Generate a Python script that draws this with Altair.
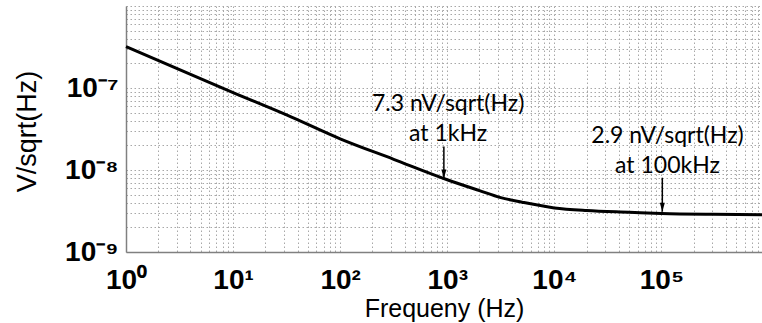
import json
import altair as alt
import pandas as pd

# ---- data ----
freq = [1, 3.16, 10, 31.6, 100, 316, 1000, 2000, 3160, 5000, 10000, 20000,
        50000, 100000, 300000, 870000]
noise = [3.2e-7, 1.67e-7, 8.8e-8, 4.7e-8, 2.4e-8, 1.35e-8, 7.6e-9, 5.6e-9,
         4.6e-9, 4.05e-9, 3.45e-9, 3.2e-9, 3.05e-9, 2.95e-9, 2.88e-9, 2.85e-9]

x_decades = [1.0, 10.0, 100.0, 1000.0, 10000.0, 100000.0]
x_labels = ["10⁰", "10¹", "10²", "10³", "10⁴", "10⁵"]
y_decades = [1e-09, 1e-08, 1e-07]
y_labels = ["10⁻⁹", "10⁻⁸", "10⁻⁷"]

ann_text = ["7.3 nV/sqrt(Hz)\nat 1kHz", "2.9 nV/sqrt(Hz)\nat 100kHz"]
ann_text_freq = [1020, 114000]
ann_arrow_freq = [930, 102000]
ann_tail = [1.94e-8, 8.05e-9]
ann_tip = [7.9e-9, 3.1e-9]

x_domain = [1, 870000]
y_domain = [1e-9, 1e-6]

# ---- grid positions (every m * 10^k) ----
x_grid = [float(f"{m}e{k}") for k in range(0, 6) for m in range(1, 10)]
x_grid = [v for v in x_grid if v <= x_domain[1]]
y_grid = [float(f"{m}e{k}") for k in (-9, -8, -7) for m in range(1, 10)] + [1e-6]

def label_expr(values, labels):
    v = json.dumps(values)
    l = json.dumps(labels, ensure_ascii=False)
    return (f"indexof({v}, datum.value) >= 0 ? "
            f"{l}[indexof({v}, datum.value)] : ''")

curve = pd.DataFrame({"f": freq, "v": noise})
ann = pd.DataFrame({"text": ann_text, "tf": ann_text_freq, "af": ann_arrow_freq,
                    "tail": ann_tail, "tip": ann_tip})

grid_style = dict(grid=True, gridColor="#a8a8a8", gridDash=[1.5, 2.5],
                  gridWidth=1, gridOpacity=1, ticks=False,
                  domainColor="#808080", domainWidth=1.5,
                  labelFont="Liberation Sans", labelFontWeight="bold",
                  labelFontSize=28, labelColor="black", labelOverlap=False,
                  labelFlush=False,
                  titleFont="Liberation Sans", titleColor="black")

x_axis = alt.Axis(values=x_grid, labelExpr=label_expr(x_decades, x_labels),
                  labelPadding=14, title="Frequeny (Hz)", titleFontSize=25,
                  titleFontWeight="normal", titleBaseline="alphabetic",
                  titleY=64, **grid_style)
y_axis = alt.Axis(values=y_grid, labelExpr=label_expr(y_decades, y_labels),
                  labelPadding=8, title="V/sqrt(Hz)", titleFontSize=27,
                  titleFontWeight="normal", titleAngle=270,
                  titleBaseline="middle", titleAlign="center",
                  titleX=-99, titleY=125, **grid_style)

xs = alt.Scale(type="log", domain=x_domain, nice=False)
ys = alt.Scale(type="log", domain=y_domain, nice=False)

line = alt.Chart(curve).mark_line(color="black", strokeWidth=3,
                                  interpolate="monotone").encode(
    x=alt.X("f:Q", scale=xs, axis=x_axis),
    y=alt.Y("v:Q", scale=ys, axis=y_axis),
)

arrow = alt.Chart(ann).mark_rule(color="black", strokeWidth=1.5).encode(
    x=alt.X("af:Q", scale=xs), y=alt.Y("tail:Q", scale=ys), y2="tip:Q")

head = alt.Chart(ann).mark_point(shape="M-0.5,-1.8L0.5,-1.8L0,0Z", size=100,
                                 filled=True, color="black", opacity=1).encode(
    x=alt.X("af:Q", scale=xs), y=alt.Y("tip:Q", scale=ys))

label = alt.Chart(ann).mark_text(font="Lato", fontSize=23, color="black",
                                 lineBreak="\n", lineHeight=30,
                                 baseline="alphabetic", align="center",
                                 dy=-35).encode(
    x=alt.X("tf:Q", scale=xs), y=alt.Y("tail:Q", scale=ys), text="text:N")

chart = alt.layer(line, arrow, head, label).properties(
    width=636, height=246,
    autosize=alt.AutoSizeParams(type="none"),
    padding={"left": 126, "top": 6, "right": 0, "bottom": 71},
    background="white",
).configure_view(stroke=None)

chart.save("out.html", embed_options={"renderer": "svg", "actions": False})
